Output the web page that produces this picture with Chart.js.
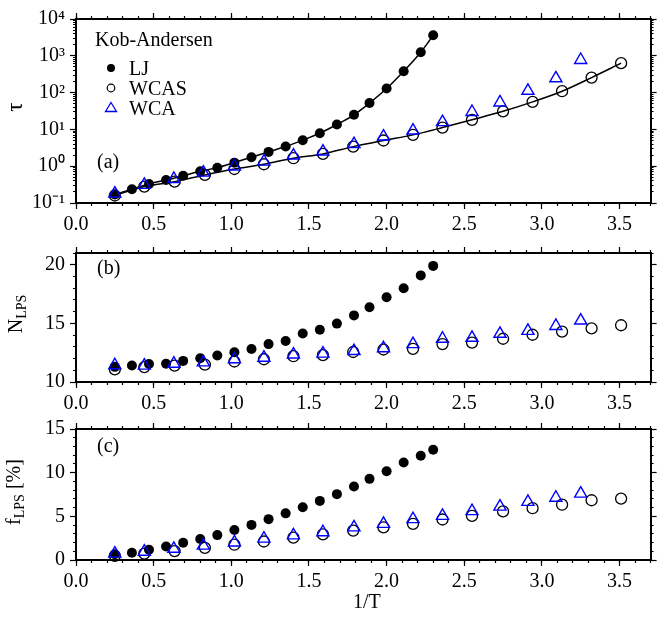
<!DOCTYPE html>
<html>
<head>
<meta charset="utf-8">
<script src="https://cdn.jsdelivr.net/npm/chart.js@4.4.1/dist/chart.umd.min.js"></script>
<style>
  body { margin: 0; background: #fff; }
  #wrap { position: relative; width: 659px; height: 617px; font-family: 'Liberation Serif', serif; color: #000; }
  canvas { position: absolute; left: 0; }
  .lab { position: absolute; font-size: 20px; line-height: 1; white-space: nowrap; }
  .rot { transform: translate(-50%, -50%) rotate(-90deg); }
  .lab sub { font-size: 14px; vertical-align: -4px; }
</style>
</head>
<body>
<div id="wrap">
  <canvas id="ca" width="659" height="236" style="top:0px"></canvas>
  <canvas id="cb" width="659" height="184" style="top:236px"></canvas>
  <canvas id="cc" width="659" height="205" style="top:412px"></canvas>

  <div class="lab" style="left:95px;top:29px">Kob-Andersen</div>
  <svg style="position:absolute;left:103px;top:60px" width="16" height="56">
    <circle cx="8" cy="8" r="4" fill="#000"/>
    <circle cx="8" cy="28" r="3.8" fill="none" stroke="#000" stroke-width="1.2"/>
    <polygon points="8,42.5 13.5,51.5 2.5,51.5" fill="none" stroke="#0000ff" stroke-width="1.3"/>
  </svg>
  <div class="lab" style="left:129px;top:58px">LJ</div>
  <div class="lab" style="left:129px;top:78px">WCAS</div>
  <div class="lab" style="left:129px;top:98px">WCA</div>

  <div class="lab" style="left:97px;top:151px">(a)</div>
  <div class="lab" style="left:97px;top:257px">(b)</div>
  <div class="lab" style="left:97px;top:435px">(c)</div>

  <div class="lab rot" style="left:14px;top:107px;font-size:23px">τ</div>
  <div class="lab rot" style="left:17px;top:314px">N<sub>LPS</sub></div>
  <div class="lab rot" style="left:15px;top:492px">f<sub>LPS</sub> [%]</div>
  <div class="lab" style="left:353px;top:591px">1/T</div>
</div>

<script>
// x = 1/T for each system
const xLJ   = [0.25, 0.36, 0.47, 0.58, 0.69, 0.80, 0.91, 1.02, 1.13, 1.24, 1.35, 1.46, 1.57, 1.68, 1.79, 1.89, 2.00, 2.11, 2.22, 2.30];
const xWCAS = [0.25, 0.44, 0.635, 0.83, 1.02, 1.21, 1.40, 1.59, 1.785, 1.98, 2.17, 2.36, 2.55, 2.75, 2.94, 3.13, 3.32, 3.51];
const xWCA  = [0.25, 0.44, 0.63, 0.82, 1.02, 1.21, 1.40, 1.59, 1.79, 1.98, 2.17, 2.36, 2.55, 2.73, 2.91, 3.09, 3.25];

// (a) relaxation time tau
const tauLJ   = [0.17, 0.236, 0.33, 0.42, 0.55, 0.73, 0.91, 1.25, 1.76, 2.45, 3.42, 5.1, 7.9, 13.6, 25, 52, 129, 380, 1250, 3600];
const tauWCAS = [0.16, 0.28, 0.38, 0.58, 0.84, 1.13, 1.65, 2.16, 3.4, 5.0, 7.1, 11.2, 18.2, 31, 56, 109, 256, 630];
const tauWCA  = [0.18, 0.31, 0.45, 0.67, 0.98, 1.33, 1.95, 2.5, 4.0, 6.4, 9.3, 15.8, 29.7, 54, 112, 245, 770];

// (b) N_LPS
const nLJ   = [11.29, 11.40, 11.53, 11.56, 11.80, 12.02, 12.26, 12.53, 12.82, 13.23, 13.50, 14.14, 14.46, 14.98, 15.68, 16.38, 17.23, 18.0, 19.09, 19.9];
const nWCAS = [11.08, 11.27, 11.40, 11.48, 11.75, 11.94, 12.2, 12.29, 12.56, 12.77, 12.82, 13.23, 13.36, 13.69, 14.03, 14.30, 14.57, 14.84];
const nWCA  = [11.43, 11.40, 11.56, 11.67, 11.94, 12.07, 12.34, 12.42, 12.64, 12.88, 13.23, 13.69, 13.77, 14.11, 14.36, 14.78, 15.24];

// (c) f_LPS [%]
const fLJ   = [0.66, 0.84, 1.17, 1.54, 1.98, 2.41, 2.85, 3.44, 4.02, 4.68, 5.34, 6.04, 6.77, 7.54, 8.41, 9.29, 10.17, 11.16, 11.93, 12.62];
const fWCAS = [0.48, 0.73, 1.02, 1.39, 1.75, 2.12, 2.56, 2.93, 3.37, 3.73, 4.14, 4.64, 5.05, 5.56, 5.93, 6.33, 6.84, 7.02];
const fWCA  = [0.73, 0.95, 1.28, 1.65, 2.01, 2.45, 2.82, 3.18, 3.73, 4.14, 4.68, 5.05, 5.6, 6.11, 6.66, 7.13, 7.6];

// tick labels
const xTicks = [0, 0.5, 1.0, 1.5, 2.0, 2.5, 3.0, 3.5];
const tauTicks = [0.1, 1, 10, 100, 1000, 10000];
const tauTickLabels = ['10⁻¹', '10⁰', '10¹', '10²', '10³', '10⁴'];
const nTicks = [10, 15, 20];
const fTicks = [0, 5, 10, 15];

function steps(a, b, d) {
  const out = [];
  for (let i = 0; a + i * d <= b + 1e-9; i++) out.push(+(a + i * d).toFixed(4));
  return out;
}
const xMinor = steps(0, 3.7, 0.1);
const tauMinor = [];
for (let e = -1; e < 4; e++) for (let m = 1; m < 10; m++) tauMinor.push(m * Math.pow(10, e));
tauMinor.push(10000);

const pts = (xs, ys) => xs.map((x, i) => ({x: x, y: ys[i]}));

function sets(lj, wcas, wca, lines) {
  return [
    { label: 'WCA', data: pts(xWCA, wca), showLine: false, pointStyle: 'triangle', pointRadius: 7,
      pointBackgroundColor: 'rgba(0,0,0,0)', pointBorderColor: '#0000ff', pointBorderWidth: 1.4 },
    { label: 'WCAS', data: pts(xWCAS, wcas), showLine: lines, borderColor: '#000', borderWidth: 1.5,
      cubicInterpolationMode: 'monotone', pointRadius: 5.5, pointBackgroundColor: 'rgba(0,0,0,0)',
      pointBorderColor: '#000', pointBorderWidth: 1.3 },
    { label: 'LJ', data: pts(xLJ, lj), showLine: lines, borderColor: '#000', borderWidth: 1.5,
      cubicInterpolationMode: 'monotone', pointRadius: 5, pointBackgroundColor: '#000',
      pointBorderColor: '#000', pointBorderWidth: 0 }
  ];
}

function scales(o) {
  const font = {family: 'Liberation Serif', size: 20};
  const grid = len => ({drawOnChartArea: false, tickLength: len, tickWidth: 1.2, tickColor: '#000'});
  const border = {color: '#000', width: 2};
  const setTicks = vals => s => { s.ticks = vals.map(v => ({value: v})); };
  const fixH = h => s => { s.height = h; };
  const fixW = w => s => { s.width = w; };
  const xb = {type: 'linear', axis: 'x', min: 0, max: 3.7, border: border};
  const yb = {type: o.type, axis: 'y', min: o.min, max: o.max, border: border};
  return {
    x: Object.assign({}, xb, {position: 'bottom', weight: 1, grid: grid(6), afterBuildTicks: setTicks(xTicks),
      ticks: {font: font, color: '#000', padding: 4, maxRotation: 0, autoSkip: false, callback: v => v.toFixed(1)},
      afterFit: fixH(o.bottom)}),
    xm: Object.assign({}, xb, {position: 'bottom', weight: 0, grid: grid(3), afterBuildTicks: setTicks(xMinor),
      ticks: {display: false}, afterFit: fixH(0)}),
    xt: Object.assign({}, xb, {position: 'top', weight: 1, grid: grid(6), afterBuildTicks: setTicks(xTicks),
      ticks: {display: false}, afterFit: fixH(o.top)}),
    xtm: Object.assign({}, xb, {position: 'top', weight: 0, grid: grid(3), afterBuildTicks: setTicks(xMinor),
      ticks: {display: false}, afterFit: fixH(0)}),
    y: Object.assign({}, yb, {position: 'left', weight: 1, grid: grid(6), afterBuildTicks: setTicks(o.major),
      ticks: {font: font, color: '#000', padding: 5, autoSkip: false, callback: o.label},
      afterFit: fixW(76)}),
    ym: Object.assign({}, yb, {position: 'left', weight: 0, grid: grid(3), afterBuildTicks: setTicks(o.minor),
      ticks: {display: false}, afterFit: fixW(0)}),
    yr: Object.assign({}, yb, {position: 'right', weight: 1, grid: grid(6), afterBuildTicks: setTicks(o.major),
      ticks: {display: false}, afterFit: fixW(3)}),
    yrm: Object.assign({}, yb, {position: 'right', weight: 0, grid: grid(3), afterBuildTicks: setTicks(o.minor),
      ticks: {display: false}, afterFit: fixW(0)})
  };
}

function panel(id, datasets, sc) {
  new Chart(document.getElementById(id), {
    type: 'scatter',
    data: {datasets: datasets},
    options: {
      responsive: false,
      animation: false,
      devicePixelRatio: 1,
      layout: {padding: 0},
      clip: false,
      plugins: {legend: {display: false}, tooltip: {enabled: false}},
      scales: sc
    }
  });
}

panel('ca', sets(tauLJ, tauWCAS, tauWCA, true), scales({
  type: 'logarithmic', min: 0.1, max: 10000, major: tauTicks, minor: tauMinor,
  label: v => tauTickLabels[tauTicks.findIndex(t => Math.abs(t - v) < t * 1e-6)],
  top: 19, bottom: 33
}));

panel('cb', sets(nLJ, nWCAS, nWCA, false), scales({
  type: 'linear', min: 10, max: 21, major: nTicks, minor: steps(10, 21, 1),
  label: v => String(v), top: 10, bottom: 38
}));

panel('cc', sets(fLJ, fWCAS, fWCA, false), scales({
  type: 'linear', min: 0, max: 15, major: fTicks, minor: steps(0, 15, 1),
  label: v => String(v), top: 11, bottom: 57
}));
</script>
</body>
</html>
